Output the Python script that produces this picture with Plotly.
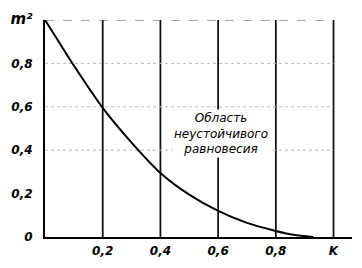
import plotly.graph_objects as go

k_vals = [0.0, 0.05, 0.1, 0.2, 0.3, 0.4, 0.5, 0.6, 0.7, 0.8, 0.86, 0.93]
m2_vals = [1.0, 0.895, 0.79, 0.595, 0.435, 0.295, 0.195, 0.12, 0.065, 0.028, 0.01, 0.0]

x_ticks = [0.2, 0.4, 0.6, 0.8, 1.0]
x_labels = ["0,2", "0,4", "0,6", "0,8", "K"]
y_ticks = [0.0, 0.2, 0.4, 0.6, 0.8, 1.0]
y_labels = ["0", "0,2", "0,4", "0,6", "0,8", "<span style='font-size:15px'>m²</span>"]
note = "Область<br>неустойчивого<br>равновесия"

fig = go.Figure()
fig.add_trace(go.Scatter(x=k_vals, y=m2_vals, mode="lines",
                         line=dict(color="black", width=2, shape="spline", smoothing=0.8),
                         showlegend=False, hoverinfo="skip"))

# vertical grid lines
for xv in x_ticks:
    fig.add_shape(type="line", x0=xv, x1=xv, y0=0, y1=1, xref="x", yref="y",
                  line=dict(color="#111", width=1.8), layer="below")
# faint horizontal dotted lines
for yv in [0.4, 0.6, 0.8]:
    fig.add_shape(type="line", x0=0, x1=1.0, y0=yv, y1=yv, xref="x", yref="y",
                  line=dict(color="#bbb", width=1, dash="dot"), layer="below")
fig.add_shape(type="line", x0=0, x1=1.0, y0=1.0, y1=1.0, xref="x", yref="y",
              line=dict(color="#555", width=1.2, dash="dash"), layer="below")

fig.add_annotation(x=0.61, y=0.475, xref="x", yref="y", text=note, showarrow=False,
                   font=dict(family="DejaVu Sans", size=12, color="black", style="italic"),
                   bgcolor="white", align="center")

tf = dict(family="DejaVu Sans", size=12, color="black", style="italic", weight="bold")
fig.update_layout(
    width=362, height=268,
    margin=dict(l=37, r=10, t=15, b=28),
    paper_bgcolor="white", plot_bgcolor="white",
    xaxis=dict(range=[0, 1.064], tickvals=x_ticks, ticktext=x_labels, showgrid=False,
               zeroline=False, showline=True, linecolor="black", linewidth=2,
               ticks="", tickfont=tf, ticklabelstandoff=2),
    yaxis=dict(range=[0, 1.0], tickvals=y_ticks, ticktext=y_labels, showgrid=False,
               zeroline=False, showline=True, linecolor="black", linewidth=2,
               ticks="", tickfont=tf, ticklabelstandoff=8),
)
fig.write_html("out.html")
